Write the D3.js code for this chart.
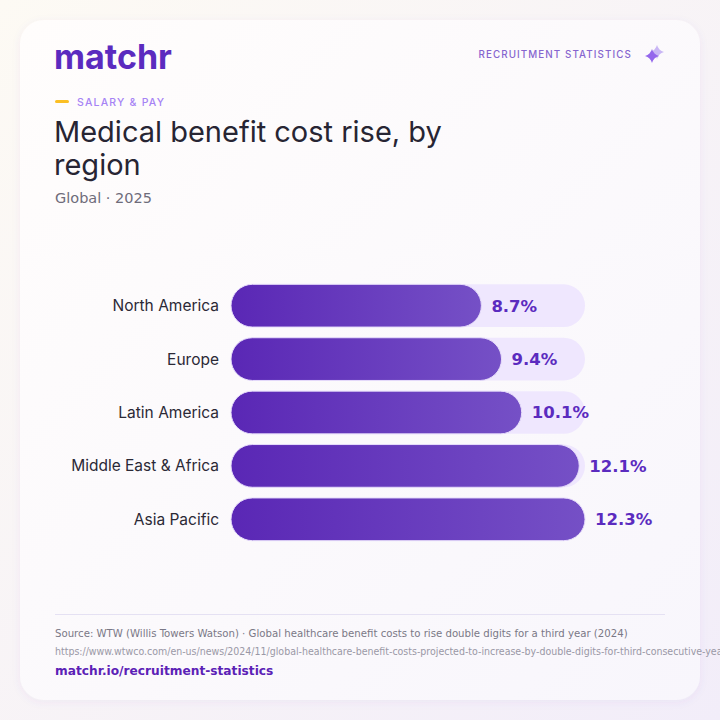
<!DOCTYPE html>
<html>
<head>
<meta charset="utf-8">
<script src="https://cdn.jsdelivr.net/npm/d3@7"></script>
<style>
  html, body { margin: 0; padding: 0; background: #fbf8f6; }
  svg { display: block; }
</style>
</head>
<body>
<article></article>
<script>
const m = { width: 720, height: 720 }

// data
const regions = ['North America', 'Europe', 'Latin America', 'Middle East & Africa', 'Asia Pacific']
const rises = [8.7, 9.4, 10.1, 12.1, 12.3]
const valueLabels = ['8.7%', '9.4%', '10.1%', '12.1%', '12.3%']

const titleLines = ['Medical benefit cost rise, by', 'region']
const subtitle = 'Global · 2025'
const kicker = 'SALARY & PAY'
const sourceText = 'Source: WTW (Willis Towers Watson) · Global healthcare benefit costs to rise double digits for a third year (2024)'
const sourceUrl = 'https://www.wtwco.com/en-us/news/2024/11/global-healthcare-benefit-costs-projected-to-increase-by-double-digits-for-third-consecutive-year'
const siteLink = 'matchr.io/recruitment-statistics'

const geo = '"Inter", "Noto Sans", sans-serif'
const dv = '"DejaVu Sans", sans-serif'
const dvc = '"DejaVu Sans Condensed", "DejaVu Sans", sans-serif'

const svg = d3.select('article').append('svg')
    .attr('width', m.width)
    .attr('height', m.height)

const defs = svg.append('defs')

const bgGrad = defs.append('linearGradient').attr('id', 'bg')
    .attr('x1', 0).attr('y1', 0).attr('x2', 1).attr('y2', 1)
bgGrad.append('stop').attr('offset', 0).attr('stop-color', '#fdfaf4')
bgGrad.append('stop').attr('offset', 1).attr('stop-color', '#f2edf9')

const cardGrad = defs.append('linearGradient').attr('id', 'card')
    .attr('x1', 0).attr('y1', 0).attr('x2', 1).attr('y2', 1)
cardGrad.append('stop').attr('offset', 0).attr('stop-color', '#fffdfc')
cardGrad.append('stop').attr('offset', 1).attr('stop-color', '#f8f6fc')

const barGrad = defs.append('linearGradient').attr('id', 'barfill')
    .attr('x1', 0).attr('y1', 0).attr('x2', 1).attr('y2', 0)
barGrad.append('stop').attr('offset', 0).attr('stop-color', '#5a27b5')
barGrad.append('stop').attr('offset', 1).attr('stop-color', '#7550c6')

const shadow = defs.append('filter').attr('id', 'shadow')
    .attr('x', -0.1).attr('y', -0.1).attr('width', 1.2).attr('height', 1.2)
shadow.append('feDropShadow').attr('dx', 0).attr('dy', 2).attr('stdDeviation', 4)
    .attr('flood-color', '#6b4bb0').attr('flood-opacity', 0.06)

svg.append('rect').attr('width', m.width).attr('height', m.height).attr('fill', 'url(#bg)')

svg.append('rect')
    .attr('x', 20).attr('y', 20)
    .attr('width', 680).attr('height', 680)
    .attr('rx', 24)
    .attr('fill', 'url(#card)')
    .attr('filter', 'url(#shadow)')

// header
svg.append('text')
    .attr('x', 54).attr('y', 69)
    .attr('font-family', geo).attr('font-weight', 700)
    .attr('font-size', 34)
    .attr('fill', '#5b2bbf')
    .text('matchr')

svg.append('text')
    .attr('x', 632).attr('y', 58)
    .attr('text-anchor', 'end')
    .attr('font-family', geo).attr('font-weight', 500)
    .attr('font-size', 9.8).attr('letter-spacing', 1.1)
    .attr('fill', '#8665cf')
    .text('RECRUITMENT STATISTICS')

// sparkle
function star(cx, cy, r) {
    const k = r * 0.22
    return `M${cx},${cy - r} Q${cx + k},${cy - k} ${cx + r},${cy} Q${cx + k},${cy + k} ${cx},${cy + r} Q${cx - k},${cy + k} ${cx - r},${cy} Q${cx - k},${cy - k} ${cx},${cy - r}Z`
}
svg.append('path').attr('d', star(657, 52, 7)).attr('fill', '#c9b6f5')
svg.append('path').attr('d', star(652, 56, 7)).attr('fill', '#9466ec')

// kicker
svg.append('rect')
    .attr('x', 55).attr('y', 100).attr('width', 14).attr('height', 3).attr('rx', 1.5)
    .attr('fill', '#fbbf24')
svg.append('text')
    .attr('x', 77).attr('y', 106)
    .attr('font-family', geo).attr('font-weight', 500)
    .attr('font-size', 10.5).attr('letter-spacing', 1.2)
    .attr('fill', '#a683f5')
    .text(kicker)

svg.append('g').selectAll('text')
    .data(titleLines)
    .enter()
    .append('text')
    .attr('x', 54)
    .attr('y', (d, i) => 142 + i * 33)
    .attr('font-family', geo).attr('font-weight', 400)
    .attr('font-size', 29)
    .attr('fill', '#272533')
    .text(d => d)

svg.append('text')
    .attr('x', 55).attr('y', 203)
    .attr('font-family', dv).attr('font-size', 14.5)
    .attr('fill', '#6e6c7a')
    .text(subtitle)

// bars
const x = d3.scaleLinear()
    .domain([0, d3.max(rises)])
    .range([231, 585])

const y = d3.scaleBand()
    .domain(regions)
    .range([279, 546])
    .paddingInner(0.2)
    .paddingOuter(0.1)

const bh = y.bandwidth()
const rows = svg.append('g').selectAll('g')
    .data(regions)
    .enter()
    .append('g')
    .attr('transform', d => `translate(0,${y(d)})`)

rows.append('rect')
    .attr('x', x(0)).attr('y', 0)
    .attr('width', x.range()[1] - x(0))
    .attr('height', bh)
    .attr('rx', bh / 2)
    .attr('fill', '#efe7fe')

rows.append('rect')
    .attr('x', x(0)).attr('y', 0)
    .attr('width', (d, i) => x(rises[i]) - x(0))
    .attr('height', bh)
    .attr('rx', bh / 2)
    .attr('fill', 'url(#barfill)')
    .attr('stroke', '#e6dcfb').attr('stroke-width', 1)

rows.append('text')
    .attr('x', 219)
    .attr('y', bh / 2)
    .attr('dy', '0.35em')
    .attr('text-anchor', 'end')
    .attr('font-family', geo).attr('font-weight', 400)
    .attr('font-size', 15.5)
    .attr('fill', '#2b2936')
    .text(d => d)

rows.append('text')
    .attr('x', (d, i) => x(rises[i]) + 10)
    .attr('y', bh / 2)
    .attr('dy', '0.36em')
    .attr('font-family', dv).attr('font-weight', 700)
    .attr('font-size', 16.5)
    .attr('fill', '#5b2bbf')
    .text((d, i) => valueLabels[i])

// footer
svg.append('line')
    .attr('x1', 55).attr('x2', 665)
    .attr('y1', 614.5).attr('y2', 614.5)
    .attr('stroke', '#e5e1f3').attr('stroke-width', 1)

svg.append('text')
    .attr('x', 55).attr('y', 637)
    .attr('font-family', dvc).attr('font-size', 11.3)
    .attr('fill', '#7a7886')
    .text(sourceText)

svg.append('text')
    .attr('x', 55).attr('y', 655)
    .attr('font-family', dvc).attr('font-size', 10.5)
    .attr('fill', '#9a98a6')
    .text(sourceUrl)

svg.append('text')
    .attr('x', 55).attr('y', 675)
    .attr('font-family', dv).attr('font-weight', 700)
    .attr('font-size', 12.2)
    .attr('fill', '#5b21b6')
    .text(siteLink)
</script>
</body>
</html>
